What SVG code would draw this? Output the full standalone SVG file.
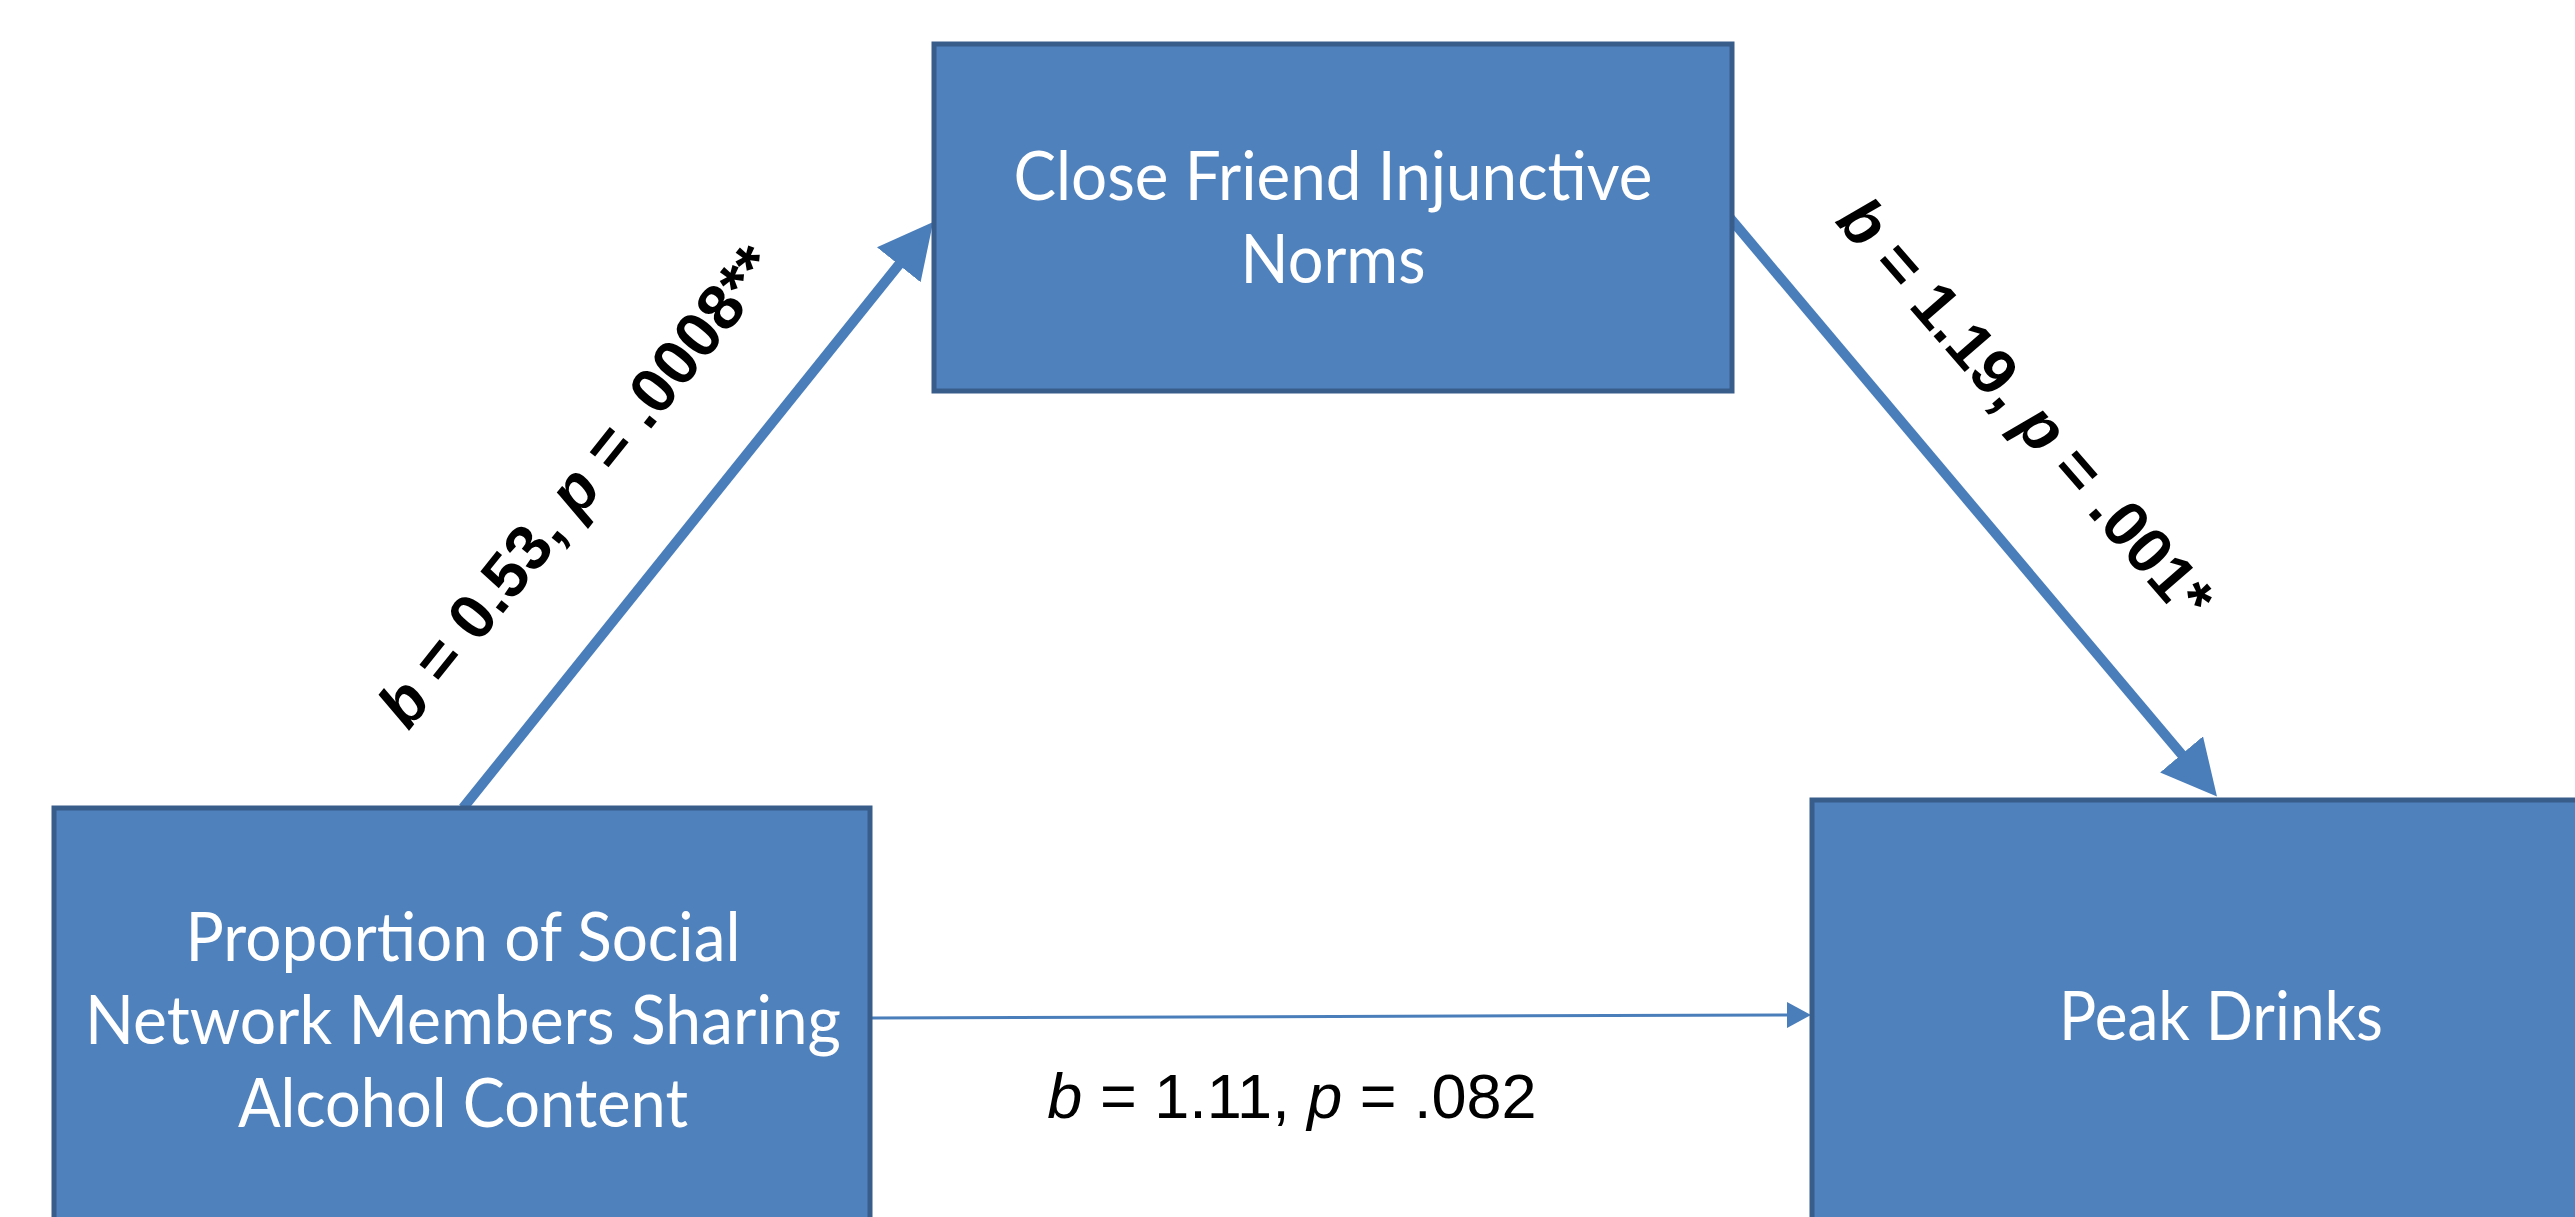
<svg xmlns="http://www.w3.org/2000/svg" width="2575" height="1217" viewBox="0 0 2575 1217">
<style>
.box{fill:#4f81bd;stroke:#385d8a;stroke-width:5}
.nt{font-family:Lato,"Open Sans",sans-serif;font-size:68px;fill:#ffffff;text-anchor:middle}
.lb{font-family:"Liberation Sans",Arial,sans-serif;font-size:64px;font-weight:bold;fill:#000000;text-anchor:middle}
.lr{font-family:"Liberation Sans",Arial,sans-serif;font-size:63px;fill:#000000;text-anchor:middle}
.thick{stroke:#4a7ebb;stroke-width:10;fill:none}
.thin{stroke:#4a7ebb;stroke-width:3;fill:none}
</style>
<defs>
<marker id="bigHead" markerUnits="userSpaceOnUse" markerWidth="60" markerHeight="60" refX="10" refY="28" orient="auto">
<path d="M0,0 L55,28 L0,56 z" fill="#4a7ebb"/>
</marker>
<marker id="smallHead" markerUnits="userSpaceOnUse" markerWidth="30" markerHeight="30" refX="4" refY="13" orient="auto">
<path d="M0,0 L24,13 L0,26 z" fill="#4a7ebb"/>
</marker>
</defs>
<rect width="2575" height="1217" fill="#ffffff"/>
<g id="connectors">
<line class="thick" x1="463" y1="808" x2="905" y2="257" marker-end="url(#bigHead)"/>
<line class="thick" x1="1730" y1="218" x2="2188" y2="762" marker-end="url(#bigHead)"/>
<line class="thin" x1="872" y1="1018" x2="1791" y2="1015" marker-end="url(#smallHead)"/>
<text class="lb" transform="translate(594,500) rotate(-51.3)"><tspan font-style="italic">b</tspan> = 0.53, <tspan font-style="italic">p</tspan> = .0008**</text>
<text class="lb" transform="translate(2009,423) rotate(49)"><tspan font-style="italic">b</tspan> = 1.19, <tspan font-style="italic">p</tspan> = .001*</text>
<text class="lr" x="1292" y="1118"><tspan font-style="italic">b</tspan> = 1.11, <tspan font-style="italic">p</tspan> = .082</text>
</g>
<g id="node-close-friend">
<rect class="box" x="934" y="44" width="798" height="347"/>
<text class="nt" x="1333" y="200" textLength="639" lengthAdjust="spacingAndGlyphs">Close Friend Injunctive</text>
<text class="nt" x="1333" y="283" textLength="185" lengthAdjust="spacingAndGlyphs">Norms</text>
</g>
<g id="node-proportion">
<rect class="box" x="54" y="808" width="816" height="440"/>
<text class="nt" x="463" y="961" textLength="555" lengthAdjust="spacingAndGlyphs">Proportion of Social</text>
<text class="nt" x="463" y="1044" textLength="756" lengthAdjust="spacingAndGlyphs">Network Members Sharing</text>
<text class="nt" x="463" y="1127" textLength="450" lengthAdjust="spacingAndGlyphs">Alcohol Content</text>
</g>
<g id="node-peak-drinks">
<rect class="box" x="1812" y="800" width="820" height="450"/>
<text class="nt" x="2221" y="1040" textLength="324" lengthAdjust="spacingAndGlyphs">Peak Drinks</text>
</g>
</svg>
